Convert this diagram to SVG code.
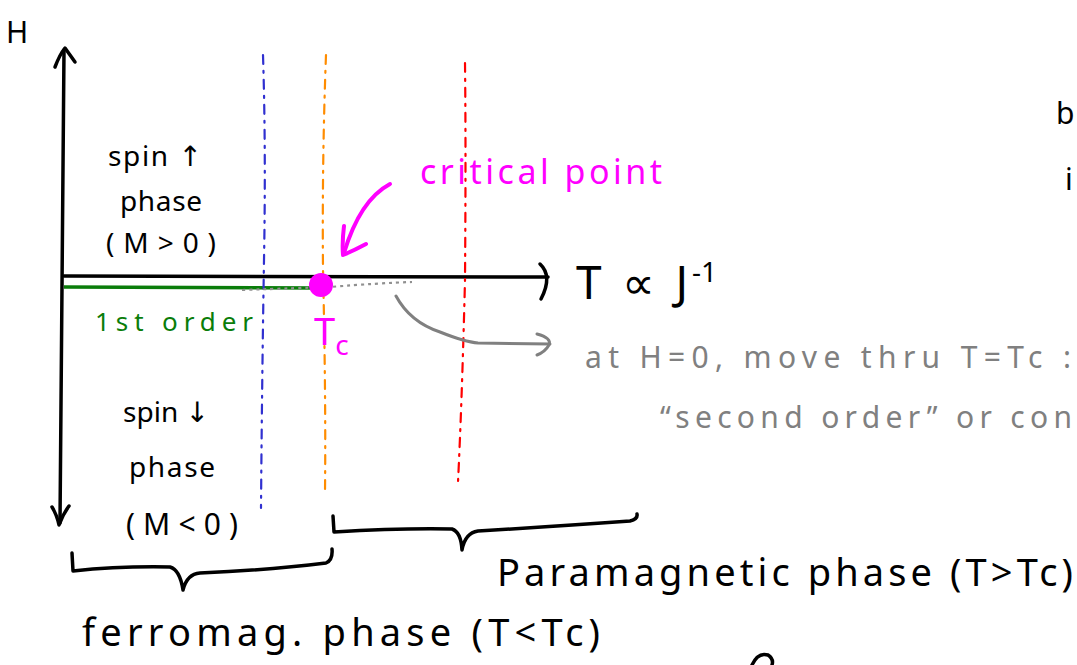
<svg xmlns="http://www.w3.org/2000/svg" width="1077" height="665" viewBox="0 0 1077 665">
<style>
.ink{fill:none;stroke:#000;stroke-width:3.5;stroke-linecap:round;stroke-linejoin:round}
.t{font-family:"Noto Sans","DejaVu Sans",sans-serif;fill:#000}
.g{fill:#808080}
.m{fill:#ff00ff}
.gr{fill:#0a7d0a}
.vd{fill:none;stroke-width:2.2;stroke-linecap:round;stroke-dasharray:9 7 2 7}
</style>
<rect width="1077" height="665" fill="#fff"/>
<g id="connectors">
  <path id="h-axis" class="ink" d="M64 276 L548 277"/>
  <path class="ink" d="M540 264 Q553 276 541 299"/>
  <path id="v-axis" class="ink" d="M64 50 L60 523"/>
  <path class="ink" d="M55 67 Q60 54 65 48 Q70 55 75 62"/>
  <path class="ink" d="M52 507 Q57 515 59 525 Q63 514 69 506"/>
  <path id="first-order" d="M64 287 L320 288" stroke="#0a7d0a" stroke-width="3.5" fill="none"/>
  <path id="blue" class="vd" stroke="#3030d0" d="M263 55 Q266 150 264 260 Q262 380 261 508"/>
  <path id="orange" class="vd" stroke="#ff8c00" d="M326 55 Q322 160 323 270 Q326 400 325 492"/>
  <path id="red" class="vd" stroke="#ff0000" d="M465 63 Q466 150 465 280 Q462 400 458 482"/>
  <path id="second-order" d="M242 290 Q300 288 330 287 Q380 283 412 282" stroke="#909090" stroke-width="2.2" stroke-dasharray="3 4" fill="none"/>
  <path id="crit-arrow" d="M390 184 Q360 200 344 253" stroke="#ff00ff" stroke-width="4" fill="none" stroke-linecap="round"/>
  <path d="M344 226 Q342 242 343 255 Q355 250 366 244" stroke="#ff00ff" stroke-width="4" fill="none" stroke-linecap="round" stroke-linejoin="round"/>
  <path id="note-arrow" d="M396 296 Q410 322 440 332 Q465 342 478 343 L550 344" stroke="#808080" stroke-width="3" fill="none" stroke-linecap="round"/>
  <path d="M537 334 Q552 338 549 345 Q545 352 537 355" stroke="#808080" stroke-width="3" fill="none" stroke-linecap="round"/>
  <path id="brace-ferro" class="ink" d="M72 553 L73 571 Q120 566 170 567 Q180 570 183 590 Q187 574 200 573 Q270 570 326 563 Q333 560 332 549"/>
  <path id="brace-para" class="ink" d="M333 516 L334 532 Q400 528 452 529 Q461 532 462 550 Q465 533 478 531 Q560 526 630 521 Q638 519 637 514"/>
  <path class="ink" d="M752 665 Q758 652 768 655 Q774 659 772 665"/>
</g>
<g id="critical-point">
  <circle cx="321" cy="285" r="12" fill="#ff00ff"/>
  <text class="t m" x="420" y="184" font-size="34" textLength="242" lengthAdjust="spacing">critical point</text>
  <text class="t m" x="314" y="345" font-size="38">T<tspan font-size="28" dy="10">c</tspan></text>
</g>
<g id="axis-labels">
  <text class="t" x="6" y="43" font-size="30">H</text>
  <text class="t" x="576" y="299" font-size="46" textLength="112" lengthAdjust="spacing">T∝J</text>
  <text class="t" x="692" y="282" font-size="28">-1</text>
</g>
<g id="spin-up">
  <text class="t" x="108" y="166" font-size="28" textLength="94" lengthAdjust="spacing">spin ↑</text>
  <text class="t" x="120" y="211" font-size="28" textLength="82" lengthAdjust="spacing">phase</text>
  <text class="t" x="106" y="253" font-size="28" textLength="110" lengthAdjust="spacing">(M&gt;0)</text>
</g>
<g id="spin-down">
  <text class="t" x="123" y="422" font-size="28" textLength="86" lengthAdjust="spacing">spin ↓</text>
  <text class="t" x="129" y="477" font-size="28" textLength="86" lengthAdjust="spacing">phase</text>
  <text class="t" x="126" y="535" font-size="30" textLength="112" lengthAdjust="spacing">(M&lt;0)</text>
</g>
<g id="first-order-label">
  <text class="t gr" x="95" y="331" font-size="26" textLength="158" lengthAdjust="spacing">1st order</text>
</g>
<g id="note">
  <text class="t g" x="585" y="368" font-size="30" textLength="486" lengthAdjust="spacing">at H=0, move thru T=Tc :</text>
  <text class="t g" x="660" y="428" font-size="30" textLength="412" lengthAdjust="spacing">“second order” or con</text>
</g>
<g id="para-label">
  <text class="t" x="497" y="586" font-size="38" textLength="576" lengthAdjust="spacing">Paramagnetic phase (T&gt;Tc)</text>
</g>
<g id="ferro-label">
  <text class="t" x="82" y="646" font-size="38" textLength="518" lengthAdjust="spacing">ferromag. phase (T&lt;Tc)</text>
</g>
<g id="edge-text">
  <text class="t" x="1056" y="124" font-size="30">b</text>
  <text class="t" x="1065" y="190" font-size="30">i</text>
</g>
</svg>
